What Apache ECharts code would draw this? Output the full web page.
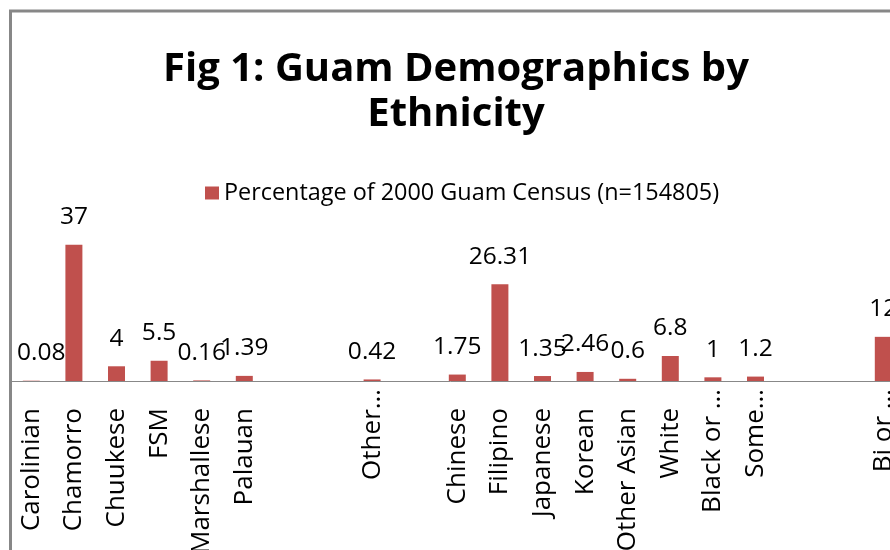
<!DOCTYPE html>
<html>
<head>
<meta charset="utf-8">
<script src="https://cdn.jsdelivr.net/npm/echarts@6/dist/echarts.min.js"></script>
<style>html,body{margin:0;padding:0;background:#fff;}#c{width:890px;height:550px;}</style>
</head>
<body>
<div id="c"></div>
<script>
var titleText = 'Fig 1: Guam Demographics by\nEthnicity';
var seriesName = 'Percentage of 2000 Guam Census (n=154805)';
var categories = ['Carolinian','Chamorro','Chuukese','FSM','Marshallese','Palauan','','','Other\u2026','','Chinese','Filipino','Japanese','Korean','Other Asian','White','Black or \u2026','Some\u2026','','','Bi or \u2026'];
var values = [0.08,37,4,5.5,0.16,1.39,null,null,0.42,null,1.75,26.31,1.35,2.46,0.6,6.8,1,1.2,null,null,12];

var FONT = '"Open Sans", sans-serif';
var chart = echarts.init(document.getElementById('c'), null, {renderer:'canvas'});
var catW = 42.6;
chart.setOption({
  animation: false,
  backgroundColor: '#ffffff',
  title: {
    text: titleText,
    left: 456,
    textAlign: 'center',
    top: 47,
    padding: 0,
    textStyle: {fontFamily: FONT, fontWeight: 'bold', fontSize: 40, lineHeight: 45, color: '#000'}
  },
  legend: {
    data: [seriesName],
    left: 205, top: 180, padding: 0,
    icon: 'rect', itemWidth: 14, itemHeight: 13,
    textStyle: {fontFamily: FONT, fontSize: 23.4, color: '#000', lineHeight: 26}
  },
  graphic: [{
    type: 'rect', silent: true, z: 100,
    shape: {x: 10.5, y: 11, width: 1000, height: 1000},
    style: {fill: 'none', stroke: '#878787', lineWidth: 3}
  }],
  grid: {left: 10, top: 233.8, width: catW * categories.length, bottom: 169, containLabel: false, outerBoundsMode: 'none'},
  xAxis: {
    type: 'category',
    data: categories,
    axisLine: {show: true, lineStyle: {color: '#888888', width: 1}},
    axisTick: {show: false},
    axisLabel: {
      interval: 0, rotate: 90, margin: 8,
      fontFamily: FONT, fontSize: 26, color: '#000',
      formatter: function (v) {
        if (!v) return '';
        return v.indexOf('\u2026') >= 0 ? '{e|' + v + '}' : '{n|' + v + '}';
      },
      rich: {
        n: {fontFamily: FONT, fontSize: 26, color: '#000', padding: [0, 19, 0, 0]},
        e: {fontFamily: FONT, fontSize: 26, color: '#000'}
      }
    }
  },
  yAxis: {type: 'value', min: 0, max: 40, show: false, splitLine: {show: false}},
  series: [{
    name: seriesName,
    type: 'bar',
    barWidth: 17,
    itemStyle: {color: '#C0504D'},
    label: {show: true, position: 'top', distance: 15, fontFamily: FONT, fontSize: 24.5, color: '#000'},
    data: values.map(function (v, i) {
      return i === 0 ? {value: v, label: {offset: [10, 0]}} : v;
    })
  }]
});
</script>
</body>
</html>
